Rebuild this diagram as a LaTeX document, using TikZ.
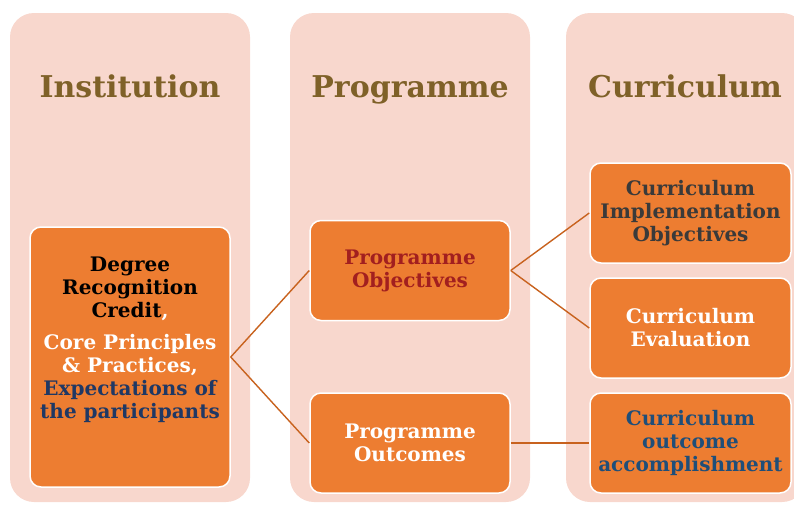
\documentclass[tikz,border=0pt]{standalone}
\usepackage{fontspec}
\setmainfont{DejaVu Serif}

\definecolor{colpink}{HTML}{F8D7CD}
\definecolor{boxorange}{HTML}{ED7D31}
\definecolor{linkbrown}{HTML}{C8621E}
\definecolor{headbrown}{HTML}{7F6128}
\definecolor{objred}{HTML}{A21F1F}
\definecolor{navyblue}{HTML}{1F3864}
\definecolor{steelblue}{HTML}{1F4E79}
\definecolor{darkgray}{HTML}{3A3A3A}

\begin{document}
\begin{tikzpicture}[x=1pt,y=-1pt,
  column/.style={fill=colpink,rounded corners=24pt,inner sep=0pt,
    minimum width=240pt,minimum height=489pt},
  heading/.style={text=headbrown,anchor=base,font=\fontsize{30}{36}\selectfont\bfseries},
  obox/.style={fill=boxorange,draw=white,line width=1.5pt,rounded corners=11pt,
    minimum width=200pt,minimum height=100pt,align=center,inner sep=2pt,
    font=\fontsize{20}{23}\selectfont\bfseries},
  link/.style={draw=linkbrown,line width=1.4pt}]

\useasboundingbox (0,0) rectangle (794,504);

% columns
\node[column]
(colInst)
at (130,257.5)
{};

\node[column]
(colProg)
at (410,257.5)
{};

\node[column]
(colCurr)
at (686,257.5)
{};

\node[heading]
(hInst)
at (130,97)
{Institution};

\node[heading]
(hProg)
at (410,97)
{Programme};

\node[heading]
(hCurr)
at (685,97)
{Curriculum};

% institution
\node[obox,minimum height=260pt]
(inst)
at (130,357)
{};

\node[align=center,font=\fontsize{20}{23}\selectfont\bfseries]
(instText)
at (130,340)
{Degree\\ Recognition\\ Credit\textcolor{white}{,}\\[9pt]
 \textcolor{white}{Core Principles}\\ \textcolor{white}{\& Practices,}\\
 \textcolor{navyblue}{Expectations of}\\ \textcolor{navyblue}{the participants}};

% programme
\node[obox,text=objred]
(pObj)
at (410,270.5)
{Programme\\ Objectives};

\node[obox,text=white]
(pOut)
at (410,443)
{Programme\\ Outcomes};

% curriculum
\node[obox,text=darkgray,minimum width=201pt]
(cImpl)
at (690.5,213)
{Curriculum\\ Implementation\\ Objectives};

\node[obox,text=white,minimum width=201pt]
(cEval)
at (690.5,328)
{Curriculum\\ Evaluation};

\node[obox,text=steelblue,minimum width=201pt]
(cAcc)
at (690.5,443)
{Curriculum\\ outcome\\ accomplishment};

\draw[link] (inst.east) -- (pObj.west);
\draw[link] (inst.east) -- (pOut.west);
\draw[link] (pObj.east) -- (cImpl.west);
\draw[link] (pObj.east) -- (cEval.west);
\draw[link] (pOut.east) -- (cAcc.west);

\end{tikzpicture}
\end{document}
